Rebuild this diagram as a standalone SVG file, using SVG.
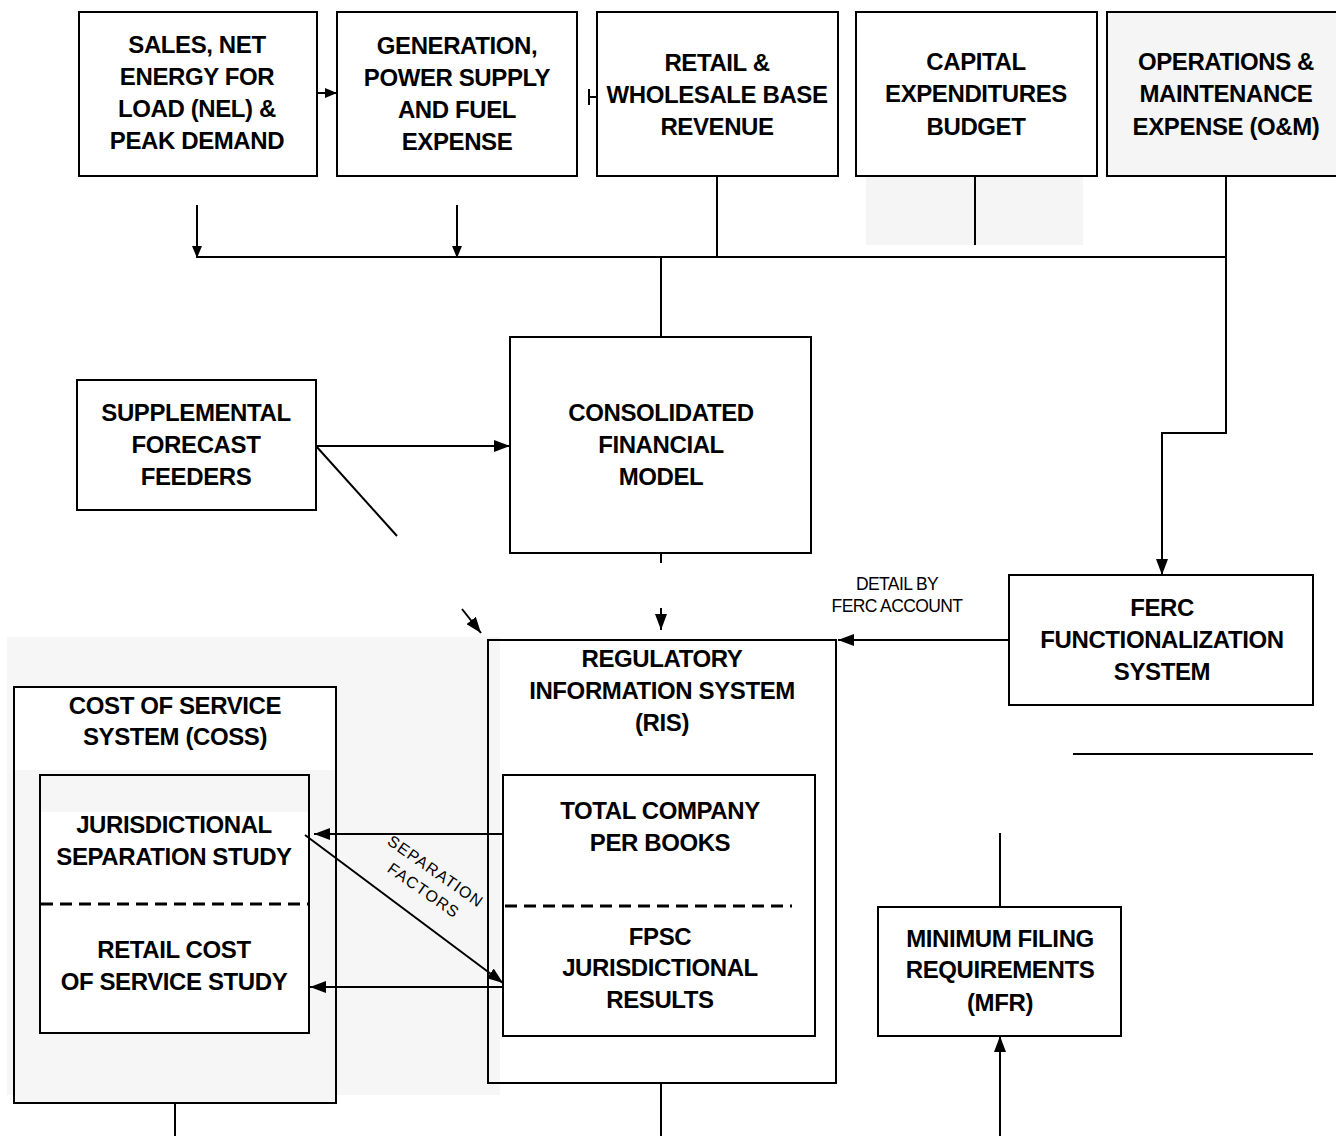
<svg xmlns="http://www.w3.org/2000/svg" width="1336" height="1136" viewBox="0 0 1336 1136">
<defs>
<style>
.box{fill:#fff;stroke:#000;stroke-width:2}
.t{font-family:"Liberation Sans",Arial,sans-serif;font-weight:bold;font-size:24px;letter-spacing:-0.4px;text-anchor:middle;fill:#000}
.s{font-family:"Liberation Sans",Arial,sans-serif;font-size:17.5px;letter-spacing:-0.6px;text-anchor:middle;fill:#000}
.r{font-family:"Liberation Sans",Arial,sans-serif;font-size:16px;letter-spacing:1.2px;text-anchor:middle;fill:#000}
.c{fill:none;stroke:#000;stroke-width:2}
.d{fill:none;stroke:#000;stroke-width:3;stroke-dasharray:12 7}
</style>
<marker id="ah" viewBox="0 0 16 12" refX="16" refY="6" markerWidth="16" markerHeight="12" markerUnits="userSpaceOnUse" orient="auto"><path d="M0,0 L16,6 L0,12 z" fill="#000"/></marker>
<marker id="sm" viewBox="0 0 12 10" refX="12" refY="5" markerWidth="12" markerHeight="10" markerUnits="userSpaceOnUse" orient="auto"><path d="M0,0 L12,5 L0,10 z" fill="#000"/></marker>
</defs>
<rect width="1336" height="1136" fill="#fff"/>
<rect x="7" y="637" width="493" height="458" fill="#f6f6f6"/>
<rect x="866" y="176" width="217" height="69" fill="#f5f5f5"/>

<g id="sales">
<rect class="box" x="79" y="12" width="238" height="164"/>
<text class="t" x="197" y="53">SALES, NET</text>
<text class="t" x="197" y="85">ENERGY FOR</text>
<text class="t" x="197" y="117">LOAD (NEL) &amp;</text>
<text class="t" x="197" y="149">PEAK DEMAND</text>
</g>
<g id="generation">
<rect class="box" x="337" y="12" width="240" height="164"/>
<text class="t" x="457" y="54">GENERATION,</text>
<text class="t" x="457" y="86">POWER SUPPLY</text>
<text class="t" x="457" y="118">AND FUEL</text>
<text class="t" x="457" y="150">EXPENSE</text>
</g>
<g id="revenue">
<rect class="box" x="597" y="12" width="241" height="164"/>
<text class="t" x="717" y="71">RETAIL &amp;</text>
<text class="t" x="717" y="103">WHOLESALE BASE</text>
<text class="t" x="717" y="135">REVENUE</text>
</g>
<g id="capex">
<rect class="box" x="856" y="12" width="241" height="164"/>
<text class="t" x="976" y="70">CAPITAL</text>
<text class="t" x="976" y="102">EXPENDITURES</text>
<text class="t" x="976" y="135">BUDGET</text>
</g>
<g id="om">
<rect class="box" x="1107" y="12" width="240" height="164" style="fill:#f5f5f5"/>
<text class="t" x="1226" y="70">OPERATIONS &amp;</text>
<text class="t" x="1226" y="102">MAINTENANCE</text>
<text class="t" x="1226" y="135">EXPENSE (O&amp;M)</text>
</g>
<g id="supplemental">
<rect class="box" x="77" y="380" width="239" height="130"/>
<text class="t" x="196" y="421">SUPPLEMENTAL</text>
<text class="t" x="196" y="453">FORECAST</text>
<text class="t" x="196" y="485">FEEDERS</text>
</g>
<g id="cfm">
<rect class="box" x="510" y="337" width="301" height="216"/>
<text class="t" x="661" y="421">CONSOLIDATED</text>
<text class="t" x="661" y="453">FINANCIAL</text>
<text class="t" x="661" y="485">MODEL</text>
</g>
<g id="ferc">
<rect class="box" x="1009" y="575" width="304" height="130"/>
<text class="t" x="1162" y="616">FERC</text>
<text class="t" x="1162" y="648">FUNCTIONALIZATION</text>
<text class="t" x="1162" y="680">SYSTEM</text>
</g>
<g id="ris">
<rect class="box" x="488" y="640" width="348" height="443"/>
<rect x="489" y="641" width="11" height="441" fill="#f6f6f6"/>
<text class="t" x="662" y="667">REGULATORY</text>
<text class="t" x="662" y="699">INFORMATION SYSTEM</text>
<text class="t" x="662" y="731">(RIS)</text>
<rect class="box" x="503" y="775" width="312" height="261"/>
<text class="t" x="660" y="819">TOTAL COMPANY</text>
<text class="t" x="660" y="851">PER BOOKS</text>
<line class="d" x1="505" y1="906" x2="792" y2="906"/>
<text class="t" x="660" y="945">FPSC</text>
<text class="t" x="660" y="976">JURISDICTIONAL</text>
<text class="t" x="660" y="1008">RESULTS</text>
</g>
<g id="coss">
<rect class="box" x="14" y="687" width="322" height="416" style="fill:#f6f6f6"/>
<rect x="15" y="688" width="320" height="82" fill="#fff"/>
<text class="t" x="175" y="714">COST OF SERVICE</text>
<text class="t" x="175" y="745">SYSTEM (COSS)</text>
<rect class="box" x="40" y="775" width="269" height="258"/>
<rect x="41" y="776" width="267" height="36" fill="#f6f6f6"/>
<text class="t" x="174" y="833">JURISDICTIONAL</text>
<text class="t" x="174" y="865">SEPARATION STUDY</text>
<line class="d" x1="41" y1="904" x2="309" y2="904"/>
<text class="t" x="174" y="958">RETAIL COST</text>
<text class="t" x="174" y="990">OF SERVICE STUDY</text>
</g>
<g id="mfr">
<rect class="box" x="878" y="907" width="243" height="129"/>
<text class="t" x="1000" y="947">MINIMUM FILING</text>
<text class="t" x="1000" y="978">REQUIREMENTS</text>
<text class="t" x="1000" y="1011">(MFR)</text>
</g>

<g id="connectors">
<line class="c" x1="317" y1="93" x2="337" y2="93" marker-end="url(#sm)"/>
<line class="c" x1="589" y1="89" x2="589" y2="105"/>
<line class="c" x1="589" y1="97" x2="597" y2="97"/>
<line class="c" x1="197" y1="205" x2="197" y2="258" marker-end="url(#sm)"/>
<line class="c" x1="457" y1="205" x2="457" y2="258" marker-end="url(#sm)"/>
<line class="c" x1="197" y1="257" x2="1227" y2="257"/>
<line class="c" x1="717" y1="176" x2="717" y2="257"/>
<line class="c" x1="975" y1="176" x2="975" y2="245"/>
<polyline class="c" points="1226,176 1226,433 1162,433 1162,575" marker-end="url(#ah)"/>
<line class="c" x1="661" y1="257" x2="661" y2="337"/>
<line class="c" x1="316" y1="446" x2="510" y2="446" marker-end="url(#ah)"/>
<line class="c" x1="316" y1="446" x2="397" y2="536"/>
<line class="c" x1="462" y1="609" x2="481" y2="633" marker-end="url(#ah)"/>
<line class="c" x1="661" y1="553" x2="661" y2="563"/>
<line class="c" x1="661" y1="608" x2="661" y2="630" marker-end="url(#ah)"/>
<line class="c" x1="1009" y1="640" x2="838" y2="640" marker-end="url(#ah)"/>
<text class="s" x="897" y="590">DETAIL BY</text>
<text class="s" x="897" y="612">FERC ACCOUNT</text>
<line class="c" x1="503" y1="834" x2="314" y2="834" marker-end="url(#ah)"/>
<line class="c" x1="503" y1="987" x2="310" y2="987" marker-end="url(#ah)"/>
<line class="c" x1="305" y1="835" x2="503" y2="983" marker-end="url(#ah)"/>
<text class="r" transform="rotate(35 436 871)" x="436" y="877">SEPARATION</text>
<text class="r" transform="rotate(35 424 890)" x="424" y="896">FACTORS</text>
<line class="c" x1="1073" y1="754" x2="1313" y2="754"/>
<line class="c" x1="1000" y1="833" x2="1000" y2="907"/>
<line class="c" x1="1000" y1="1136" x2="1000" y2="1036" marker-end="url(#ah)"/>
<line class="c" x1="661" y1="1083" x2="661" y2="1136"/>
<line class="c" x1="175" y1="1103" x2="175" y2="1136"/>
</g>
</svg>
